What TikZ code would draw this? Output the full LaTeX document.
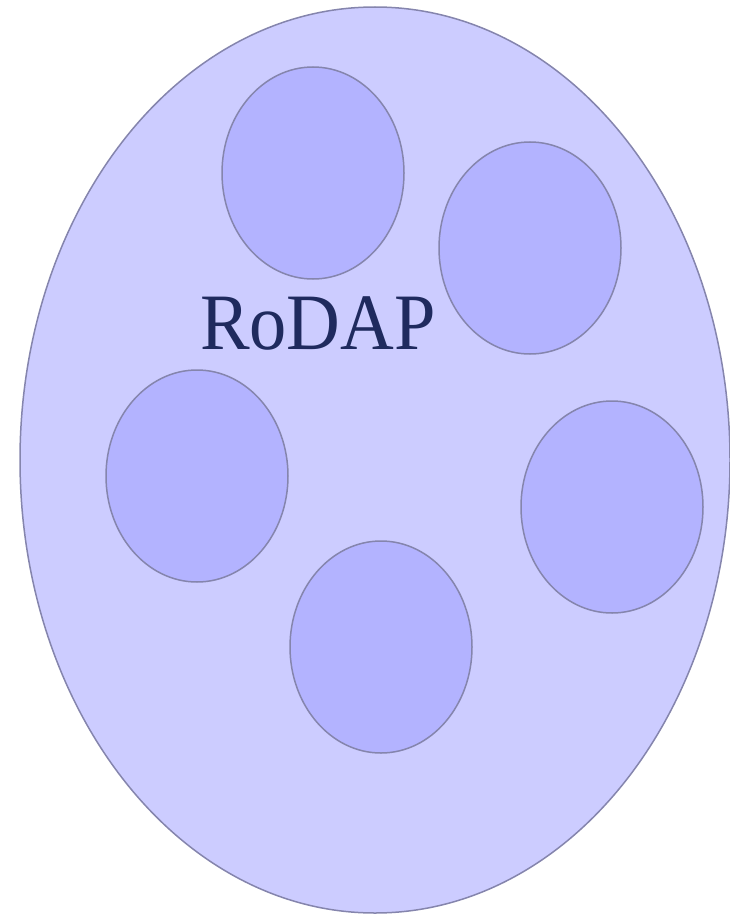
\documentclass[tikz,border=0pt]{standalone}
\usepackage{fontspec}
\setmainfont{Liberation Serif}
\definecolor{outerfill}{HTML}{CCCCFF}
\definecolor{innerfill}{HTML}{B3B3FF}
\definecolor{edge}{HTML}{8585AD}
\definecolor{label}{HTML}{1F2A5E}
\begin{document}
\begin{tikzpicture}[x=1pt,y=-1pt,
  outer/.style={draw=edge,fill=outerfill,line width=1.5pt},
  inner/.style={draw=edge,fill=innerfill,line width=1.5pt}]
\useasboundingbox (0,0) rectangle (729,915);
\path[outer] (375,460) ellipse [x radius=355, y radius=453];
\path[inner] (313,173) ellipse [x radius=91, y radius=106];
\path[inner] (530,248) ellipse [x radius=91, y radius=106];
\path[inner] (197,476) ellipse [x radius=91, y radius=106];
\path[inner] (612,507) ellipse [x radius=91, y radius=106];
\path[inner] (381,647) ellipse [x radius=91, y radius=106];
\node[text=label,font=\fontsize{80}{80}\selectfont,inner sep=0pt,anchor=base,xscale=0.93] (t) at (318,349) {RoDAP};
\end{tikzpicture}
\end{document}
